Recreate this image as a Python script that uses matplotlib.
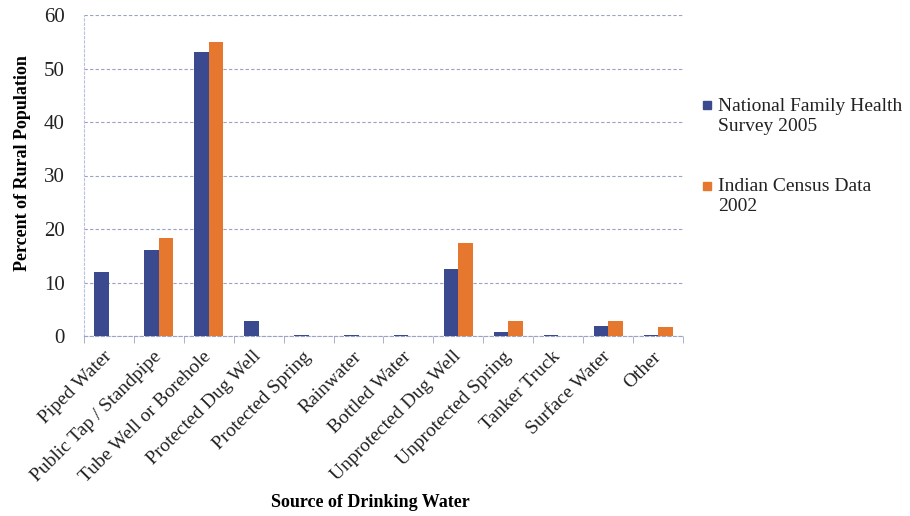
import matplotlib
matplotlib.use("Agg")
import matplotlib.pyplot as plt
import numpy as np
from matplotlib.patches import Rectangle

categories = ["Piped Water", "Public Tap / Standpipe", "Tube Well or Borehole",
              "Protected Dug Well", "Protected Spring", "Rainwater", "Bottled Water",
              "Unprotected Dug Well", "Unprotected Spring", "Tanker Truck",
              "Surface Water", "Other"]
nfhs_2005 = [11.9, 16.1, 53.1, 2.8, 0.2, 0.1, 0.1, 12.5, 0.75, 0.25, 1.8, 0.1]
census_2002 = [0.0, 18.4, 55.0, 0.0, 0.0, 0.0, 0.0, 17.3, 2.8, 0.0, 2.8, 1.7]
series_names = ["National Family Health\nSurvey 2005", "Indian Census Data\n2002"]
yticks = [0, 10, 20, 30, 40, 50, 60]

blue = "#3b4a8e"
orange = "#e5782e"
serif = "Liberation Serif"
W, H = 910, 516

fig = plt.figure(figsize=(W / 100, H / 100), dpi=100)
ax = fig.add_axes([84 / W, 1 - 336 / H, 599 / W, 321 / H])

x = np.arange(len(categories))
w = 0.29
ax.bar(x - w / 2, nfhs_2005, width=w, color=blue, zorder=3)
ax.bar(x + w / 2, census_2002, width=w, color=orange, zorder=3)

ax.set_xlim(-0.5, len(categories) - 0.5)
ax.set_ylim(0, 60)
ax.set_yticks(yticks)
ax.set_yticklabels([str(t) for t in yticks], fontsize=15, family=serif, color="#222222")
ax.yaxis.grid(True, linestyle=(0, (3, 2)), color="#9aa3c4", linewidth=0.8, zorder=0)

ax.set_xticks(x)
ax.set_xticklabels(categories, rotation=45, ha="right", va="center",
                   rotation_mode="anchor", fontsize=14, family=serif, color="#222222")
ax.tick_params(axis="x", length=0, pad=13)
ax.set_xticks(np.arange(len(categories) + 1) - 0.5, minor=True)
ax.tick_params(axis="x", which="minor", length=5, color="#9aa3c4", direction="out")
ax.tick_params(axis="y", length=0, pad=14)

for side in ["top", "right"]:
    ax.spines[side].set_visible(False)
ax.spines["left"].set_color("#b8c2e0")
ax.spines["left"].set_linestyle((0, (2, 2)))
ax.spines["left"].set_linewidth(0.8)
ax.spines["bottom"].set_color("#9aa3c4")
ax.spines["bottom"].set_linestyle((0, (3, 2)))
ax.spines["bottom"].set_linewidth(0.8)

ax.set_ylabel("Percent of Rural Population", fontsize=13, family=serif,
              fontweight="bold", labelpad=9)
ax.yaxis.label.set_y(0.54)
ax.set_xlabel("Source of Drinking Water", fontsize=13, family=serif,
              fontweight="bold", labelpad=6)
ax.xaxis.label.set_x(0.478)

# Legend: colour squares with two-line labels to the right of the plot
legend_rows = [(blue, 101, 98), (orange, 182, 178)]
for (color, sq_top, txt_top), name in zip(legend_rows, series_names):
    fig.add_artist(Rectangle((703 / W, 1 - (sq_top + 8) / H), 8 / W, 8 / H,
                             transform=fig.transFigure, color=color))
    fig.text(718 / W, 1 - txt_top / H, name, ha="left", va="top",
             family=serif, fontsize=14, color="#222222", linespacing=1.2)

fig.savefig("out.png", dpi=100)
